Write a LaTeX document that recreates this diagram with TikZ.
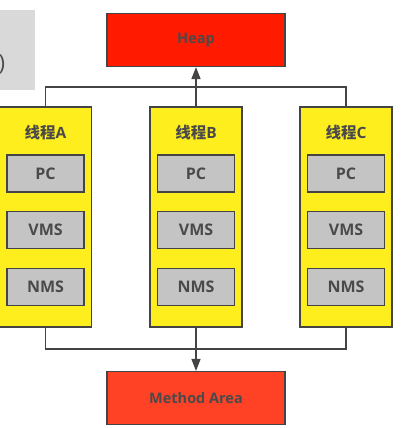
\documentclass[tikz,border=0pt]{standalone}
\usepackage{fontspec}
\setmainfont{Open Sans}
\newfontfamily\cjk{Noto Sans CJK SC}
\usetikzlibrary{arrows.meta}
\definecolor{heapred}{HTML}{FF1A00}
\definecolor{methred}{HTML}{FF4226}
\definecolor{thyellow}{HTML}{FFEE1E}
\definecolor{ingray}{HTML}{C4C4C4}
\definecolor{txt}{HTML}{4A4A4A}
\definecolor{edge}{HTML}{444444}
\begin{document}
\begin{tikzpicture}[x=1pt,y=-1pt,
  redbox/.style={draw=edge,line width=1.1pt,minimum width=178pt,minimum height=53pt,font=\bfseries\fontsize{14.5}{16}\selectfont,text=txt},
  thread/.style={draw=edge,line width=1.1pt,fill=thyellow,minimum width=92pt,minimum height=220pt},
  inner/.style={draw=edge,line width=1.1pt,fill=ingray,minimum width=77pt,minimum height=37pt,font=\bfseries\fontsize{16}{18}\selectfont,text=txt},
  ttl/.style={font=\bfseries\fontsize{15.5}{17}\selectfont,text=txt},
  conn/.style={draw=edge,line width=1.3pt},
  tip/.style={-{Triangle[length=12pt,width=9pt]}}]
\useasboundingbox (0,0) rectangle (407,428);
\fill[white] (0,0) rectangle (407,428);
% cropped slide element
\fill[black!15] (0,10) rectangle (35,90);
\node[font=\fontsize{22}{24}\selectfont,text=txt] (paren) at (2,64) {)};
% main boxes
\node[redbox,fill=heapred] (heap) at (196,40) {Heap};
\node[redbox,fill=methred] (meth) at (196,398) {Method Area};
\foreach \n/\x/\l in {A/45.5/A,B/196/B,C/346/C}{
  \node[thread] (t\n) at (\x,217) {};
  \node[ttl] (t\n title) at (\x,133) {{\cjk\bfseries 线程}\l};
  \node[inner] (t\n pc) at (\x,173.5) {PC};
  \node[inner] (t\n vms) at (\x,230) {VMS};
  \node[inner] (t\n nms) at (\x,287) {NMS};
}
% connectors
\coordinate (topA) at (tA.north |- 0,87);
\coordinate (topC) at (tC.north |- 0,87);
\coordinate (botA) at (tA.south |- 0,349);
\coordinate (botC) at (tC.south |- 0,349);
\draw[conn] (tA.north) -- (topA) -- (topC) -- (tC.north);
\draw[conn,tip] (tB.north) -- (heap.south);
\draw[conn] (tA.south) -- (botA) -- (botC) -- (tC.south);
\draw[conn,tip] (tB.south) -- (meth.north);
\end{tikzpicture}
\end{document}
